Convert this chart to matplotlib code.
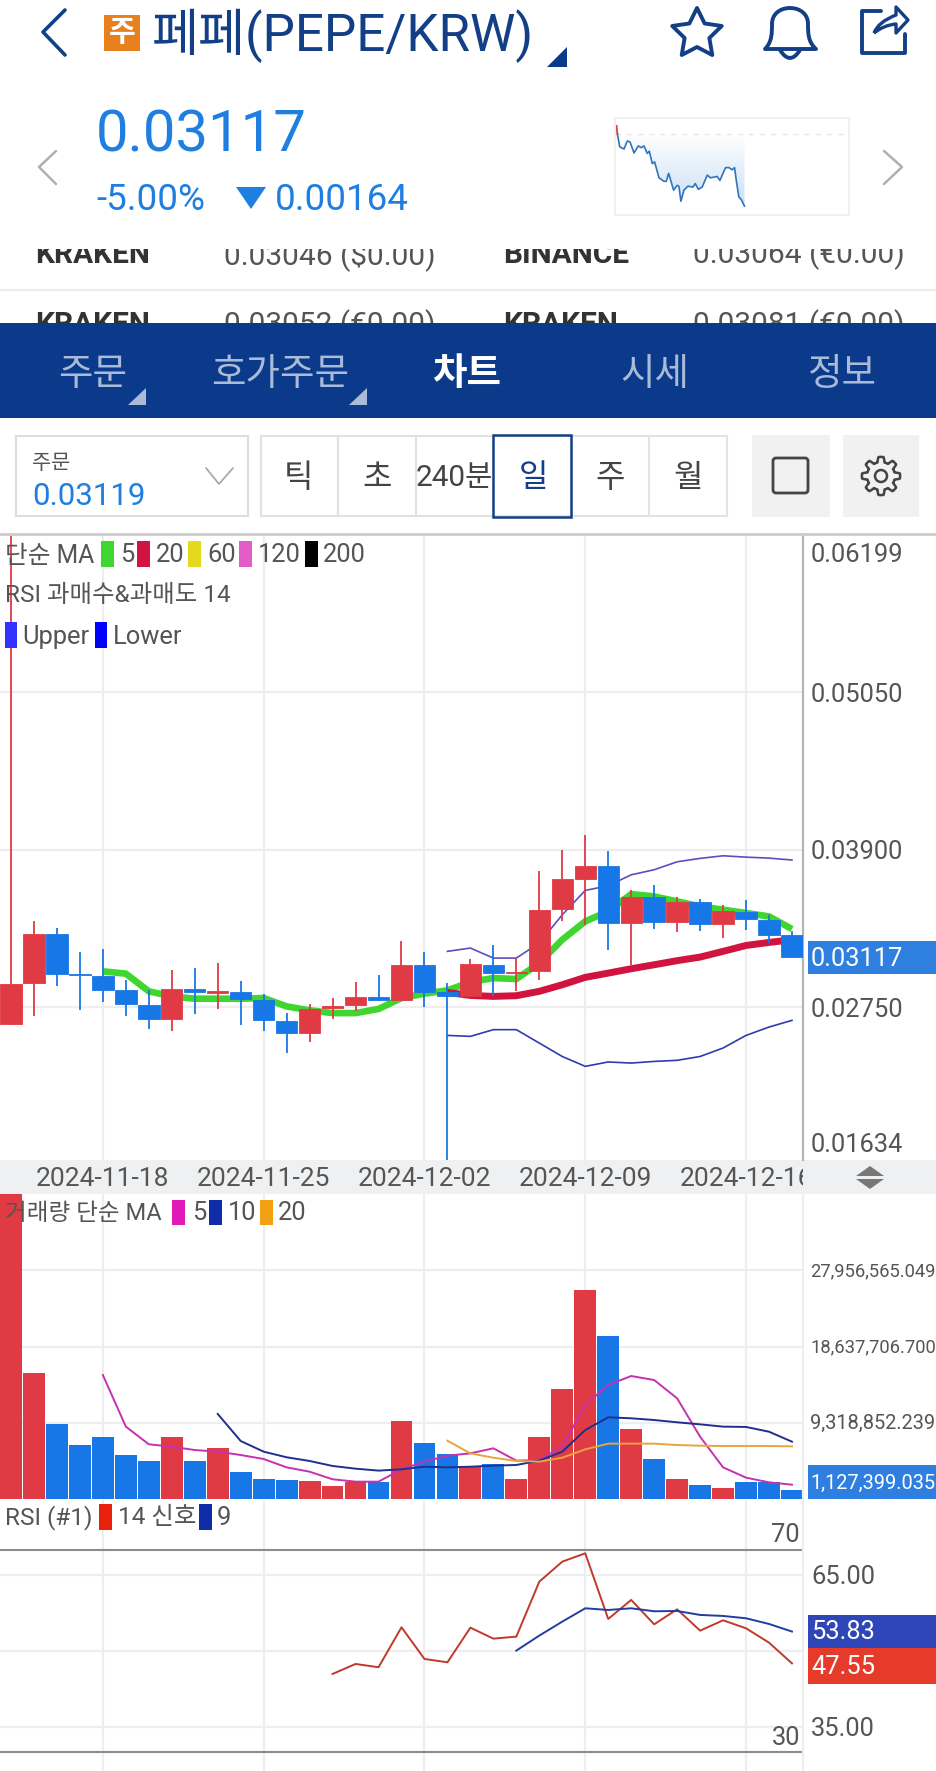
import matplotlib
matplotlib.use('Agg')
import matplotlib.pyplot as plt
import numpy as np
from matplotlib.patches import Rectangle, Polygon, PathPatch, Circle, FancyBboxPatch
from matplotlib.path import Path
from matplotlib.transforms import Bbox

plt.rcParams['font.family'] = ['Roboto', 'Noto Sans CJK KR', 'DejaVu Sans']

W, H = 936, 1771

# daily candles, 2024-11-14 .. 2024-12-18
opens = [.02625, .02929, .03282, .02995, .02980, .02873, .02768, .02661, .02883, .02856, .02861, .02805,
         .02649, .02561, .02744, .02768, .02822, .02805, .03055, .02861, .02829, .03060, .02999, .03014,
         .03469, .03686, .03783, .03365, .03552, .03372, .03518, .03357, .03445, .03386, .03277]
closes = [.02922, .03282, .02995, .02987, .02878, .02776, .02661, .02883, .02861, .02866, .02810, .02654,
          .02561, .02737, .02761, .02822, .02805, .03055, .02858, .02832, .03065, .02999, .03009, .03462,
          .03686, .03783, .03365, .03552, .03372, .03518, .03357, .03450, .03391, .03279, .03117]
highs = [.06199, .03377, .03328, .03153, .03177, .02951, .02878, .03024, .03038, .03070, .02943, .02846,
         .02707, .02776, .02814, .02936, .02987, .03231, .03155, .02926, .03102, .03206, .03109, .03742,
         .03900, .04010, .03893, .03608, .03644, .03554, .03540, .03496, .03530, .03421, .03304]
lows = [.02625, .02683, .02902, .02732, .02790, .02688, .02591, .02574, .02702, .02737, .02622, .02576,
        .02415, .02496, .02661, .02720, .02805, .02805, .02751, .01634, .02829, .02829, .02866, .02951,
        .03377, .03352, .03170, .03060, .03321, .03299, .03309, .03255, .03316, .03219, .03117]

ma5 = [.03012, .02995, .02866, .02829, .02812, .02812, .02812, .02817, .02756, .02727, .02707, .02707,
       .02737, .02817, .02849, .02873, .02934, .02963, .02956, .03072, .03243, .03377, .03450, .03576,
       .03559, .03523, .03486, .03462, .03438, .03413, .03321]  # from index 4
ma20 = [.02858, .02836, .02829, .02834, .02866, .02914, .02968, .02999, .03031, .03060, .03090, .03116,
        .03158, .03201, .03223, .03243]  # from index 19
boll_upper = [.03158, .03182, .03109, .03109, .03219, .03425, .03603, .03637, .03717, .03754, .03812,
              .03837, .03856, .03846, .03839, .03825]  # from index 19
boll_lower = [.02544, .02537, .02586, .02586, .02488, .02390, .02318, .02350, .02342, .02354, .02362,
              .02390, .02452, .02544, .02605, .02654]  # from index 19

price_ticks = [.05050, .03900, .02750]
price_labels = ['0.06199', '0.05050', '0.03900', '0.02750', '0.01634']
price_label_vals = [.06199, .05050, .03900, .02750, .01634]

date_pos = [4, 11, 18, 25, 32]
date_labels = ['2024-11-18', '2024-11-25', '2024-12-02', '2024-12-09', '2024-12-16']

volume = [37.30, 15.37, 9.13, 6.64, 7.54, 5.34, 4.65, 7.58, 4.65, 6.20, 3.26, 2.49, 2.36, 2.16, 1.59, 2.12,
          2.12, 9.50, 6.89, 5.46, 3.95, 4.28, 2.49, 7.62, 13.45, 25.52, 19.93, 8.60, 4.89, 2.49, 1.75, 1.35,
          2.12, 2.12, 1.127399]  # millions
vol_ma5 = [15.16, 8.85, 6.69, 6.40, 5.99, 5.79, 5.38, 4.89, 3.87, 3.34, 2.41, 2.12, 2.12, 3.63, 4.57, 5.30,
           5.58, 6.20, 4.69, 4.77, 6.40, 11.50, 13.94, 15.04, 14.55, 12.31, 7.62, 3.87, 2.61, 2.04, 1.75]  # from 4
vol_ma10 = [10.40, 7.09, 5.79, 5.10, 4.65, 4.04, 3.71, 3.47, 3.63, 3.95, 3.87, 3.95, 4.08, 4.16, 4.69, 5.79,
            8.44, 9.99, 9.87, 9.66, 9.38, 9.13, 8.85, 8.81, 8.23, 7.01]  # from 9
vol_ma20 = [7.13, 5.58, 5.05, 4.65, 4.57, 5.05, 6.07, 6.77, 6.77, 6.77, 6.60, 6.52, 6.48, 6.48, 6.48, 6.44]  # from 19
vol_ticks = [9318852.239, 18637706.700, 27956565.049]
vol_labels = ['9,318,852.239', '18,637,706.700', '27,956,565.049']

rsi = [45.46, 47.43, 46.78, 54.67, 48.42, 47.76, 54.60, 52.43, 52.83, 63.68, 67.63, 69.28, 56.32, 60.07,
       55.26, 58.22, 54.01, 56.05, 54.47, 51.64, 47.55]  # from index 14
rsi_signal = [50.07, 53.03, 55.79, 58.42, 58.09, 58.42, 57.83, 57.89, 57.11, 56.91, 56.45, 55.33, 53.83]  # from 22
rsi_ticks = [65, 50, 35]

# intraday sparkline (hours, price)
spark_t = [.24, .48, .92, 1.26, 1.54, 1.95, 2.39, 2.70, 2.97, 3.31, 3.52, 3.82, 4.06, 4.51, 5.02, 5.26, 5.50,
           6.01, 6.38, 6.55, 6.76, 7.07, 7.48, 7.99, 8.23, 8.54, 8.94, 9.46, 9.80, 10.48, 10.76, 11.34, 11.68,
           12.02, 12.26, 12.46, 12.70, 12.97, 13.28]
spark_p = [.03281, .03251, .03246, .03264, .03262, .03237, .03253, .03249, .03253, .03236, .03241, .03213,
           .03217, .03181, .03173, .03173, .03191, .03153, .03164, .03162, .03128, .03153, .03162, .03160,
           .03168, .03155, .03160, .03187, .03181, .03184, .03175, .03204, .03204, .03199, .03204, .03172,
           .03138, .03131, .03117]
prev_close = .03281

RED = '#E03A45'
BLUE = '#1877E6'
GRID = '#EEEEF0'
NAVY = '#0B3A8A'
ICON = '#123F86'
TXT = '#555555'


def px_ax(x0, y0, x1, y1, **kw):
    return fig.add_axes([x0 / W, 1 - y1 / H, (x1 - x0) / W, (y1 - y0) / H], **kw)


fig = plt.figure(figsize=(W / 100, H / 100), dpi=100)

# background strip behind the date labels
bg = px_ax(0, 0, W, H, zorder=0)
bg.set_xlim(0, W)
bg.set_ylim(H, 0)
bg.axis('off')
bg.add_patch(Rectangle((0, 1160), W, 34, fc='#EFF0F2', ec='none'))

xlim = (-0.479, 34.48)
idx = np.arange(len(opens))


def style_ax(ax, edge):
    ax.set_xlim(*xlim)
    ax.set_xticks(date_pos)
    ax.grid(True, color=GRID, lw=1.6)
    ax.set_axisbelow(True)
    ax.tick_params(length=0, labelleft=False, labelbottom=False)
    for s in ['top', 'left', 'bottom']:
        ax.spines[s].set_visible(False)
    ax.spines['right'].set_color(edge)
    ax.spines['right'].set_linewidth(1.6)


def right_label(ax, val, s, size=18.4, dy=-2.5, x=8):
    ax.annotate(s, xy=(1, val), xycoords=ax.get_yaxis_transform(), xytext=(x, dy), textcoords='offset pixels',
                ha='left', va='center', fontsize=size, color=TXT, annotation_clip=False)


# price panel
ax1 = px_ax(0, 535, 803, 1160, zorder=1)
style_ax(ax1, '#B4B4B4')
ax1.set_ylim(.01634, .06199)
ax1.set_yticks(price_ticks)

ax1.plot(np.arange(19, 19 + len(boll_upper)), boll_upper, color='#5B4FC0', lw=1.2, zorder=2)
ax1.plot(np.arange(19, 19 + len(boll_lower)), boll_lower, color='#2F3BAE', lw=1.2, zorder=2)
ax1.plot(np.arange(4, 4 + len(ma5)), ma5, color='#3FD62F', lw=4.8, zorder=2, solid_capstyle='butt')
ax1.plot(np.arange(19, 19 + len(ma20)), ma20, color='#D0143F', lw=5, zorder=2, solid_capstyle='butt')

candle_col = [RED if c > o else BLUE for o, c in zip(opens, closes)]
ax1.vlines(idx, lows, highs, colors=candle_col, lw=1.3, zorder=3)
body = np.abs(np.array(closes) - np.array(opens))
bottom = np.minimum(opens, closes)
ax1.bar(idx, body, bottom=bottom, width=0.93, color=candle_col, edgecolor=candle_col, lw=0.6, zorder=4)

dy_price = [-19.5, -2.5, -2.5, -2.5, 14.5]
for v, s, d in zip(price_label_vals, price_labels, dy_price):
    right_label(ax1, v, s, dy=d)

ax1.set_xticklabels(date_labels)
ax1.tick_params(axis='x', labelbottom=True, labelsize=19, labelcolor=TXT, pad=5)
clip = Bbox([[0, 0], [803, H]])
for lab in ax1.get_xticklabels():
    lab.set_clip_on(True)
    lab.set_clip_box(clip)

# volume panel
ax2 = px_ax(0, 1194, 803, 1499, zorder=1)
style_ax(ax2, GRID)
vol = np.array(volume) * 1e6
ax2.set_ylim(0, 37.3e6)
ax2.set_yticks(vol_ticks)
ax2.bar(idx, vol, width=0.95, color=candle_col, lw=0, zorder=2)
ax2.plot(np.arange(4, 4 + len(vol_ma5)), np.array(vol_ma5) * 1e6, color='#C730B0', lw=1.4, zorder=3)
ax2.plot(np.arange(9, 9 + len(vol_ma10)), np.array(vol_ma10) * 1e6, color='#1F2F8F', lw=1.4, zorder=3)
ax2.plot(np.arange(19, 19 + len(vol_ma20)), np.array(vol_ma20) * 1e6, color='#E8A53A', lw=1.4, zorder=3)
for v, s, sz in zip(vol_ticks, vol_labels, [14.4, 13.2, 13.2]):
    right_label(ax2, v, s, size=sz, dy=-1, x=7)

# RSI panel
ax3 = px_ax(0, 1500, 803, 1771, zorder=1)
style_ax(ax3, GRID)
ax3.set_ylim(26.3, 79.8)
ax3.set_yticks(rsi_ticks)
for lvl in (70, 30):
    ax3.axhline(lvl, color='#8C8C8C', lw=1.5, zorder=2)
    ax3.text(34.35, lvl + 0.5, str(lvl), ha='right', va='bottom', fontsize=18.4, color=TXT)
ax3.plot(np.arange(14, 14 + len(rsi)), rsi, color='#C0392B', lw=1.4, zorder=3)
ax3.plot(np.arange(22, 22 + len(rsi_signal)), rsi_signal, color='#1F3F9F', lw=1.4, zorder=3)
for v in (65, 35):
    right_label(ax3, v, '%.2f' % v)

# everything else is screen furniture, drawn in pixel coordinates
ui = px_ax(0, 0, W, H, zorder=2)
ui.set_xlim(0, W)
ui.set_ylim(H, 0)
ui.axis('off')
ui.patch.set_alpha(0)


def T(x, y, s, size=18.4, color=TXT, ha='left', va='center', **kw):
    return ui.text(x, y, s, fontsize=size, color=color, ha=ha, va=va, **kw)


def swatch(x0, x1, y0, y1, col):
    ui.add_patch(Rectangle((x0, y0), x1 - x0, y1 - y0, fc=col, ec='none'))


def chevron(pts, col, lw):
    xs, ys = zip(*pts)
    ui.plot(xs, ys, color=col, lw=lw, solid_capstyle='round', solid_joinstyle='round')


# table rows behind the header
for y, a, b, c, d in [(255, 'KRAKEN', '0.03046 ($0.00)', 'BINANCE', '0.03064 (€0.00)'),
                      (325, 'KRAKEN', '0.03052 (€0.00)', 'KRAKEN', '0.03081 (€0.00)')]:
    T(35, y, a, 21.5, '#333333', weight='bold')
    T(224, y, b, 21.5, TXT)
    T(503, y, c, 21.5, '#333333', weight='bold')
    T(693, y, d, 21.5, TXT)
ui.add_patch(Rectangle((0, 222), W, 27, fc='white', ec='none', zorder=3.5))
ui.plot([0, W], [290, 290], color='#EEEEEE', lw=1.6)

# header
chevron([(65, 10), (43, 32), (65, 55)], ICON, 2.6)
swatch(104, 140, 15, 51, '#E8801E')
T(122, 33, '주', 21, 'white', ha='center', weight='bold')
T(152, 36, '페페(PEPE/KRW)', 36.8, ICON, zorder=3)
ui.add_patch(Polygon([(547, 67), (567, 67), (567, 47)], fc=NAVY, ec='none'))

ang = np.pi / 2 + np.arange(10) * np.pi / 5
rad = np.where(np.arange(10) % 2 == 0, 26, 13)
ui.add_patch(Polygon(np.c_[697 + rad * np.cos(ang), 34 - rad * np.sin(ang)], fc='none', ec=ICON, lw=2.8, joinstyle='round'))

bell = Path([(765, 49), (816, 49), (808, 42), (808, 33), (808, 24), (808, 14), (800, 8), (790, 8), (780, 8), (772, 14),
             (772, 24), (772, 33), (772, 42), (765, 49), (765, 49)],
            [Path.MOVETO, Path.LINETO] + [Path.CURVE4] * 12 + [Path.CLOSEPOLY])
ui.add_patch(PathPatch(bell, fc='none', ec=ICON, lw=2.8, joinstyle='round'))
ui.add_patch(PathPatch(Path([(780, 50), (790, 66), (800, 50)], [Path.MOVETO, Path.CURVE3, Path.CURVE3]), fc='none', ec=ICON, lw=2.8))

chevron([(881, 11), (862, 11), (862, 53), (905, 53), (905, 34)], ICON, 2.8)
share = Path([(874, 33), (878, 22), (896, 15), (896, 7), (908, 20), (896, 33), (896, 24), (884, 25), (874, 33)],
             [Path.MOVETO, Path.CURVE3, Path.CURVE3, Path.LINETO, Path.LINETO, Path.LINETO, Path.LINETO, Path.CURVE3, Path.CURVE3])
ui.add_patch(PathPatch(share, fc='none', ec=ICON, lw=2.4, joinstyle='round'))

# price block
T(96, 136, '0.03117', 41.8, '#1E7FE0')
T(96, 200, '-5.00%', 26.5, '#1E7FE0')
ui.add_patch(Polygon([(236, 187), (266, 187), (251, 209)], fc='#1E7FE0', ec='none'))
T(275, 200, '0.00164', 26.5, '#1E7FE0')
chevron([(56, 151), (39, 167), (56, 184)], '#B0B0B0', 1.8)
chevron([(884, 151), (902, 167), (884, 184)], '#B0B0B0', 1.8)

# sparkline
axs = px_ax(615, 118, 849, 215, zorder=3)
axs.set_xticks([])
axs.set_yticks([])
for s in axs.spines.values():
    s.set_color('#EDEDED')
    s.set_linewidth(1.2)
grad = np.linspace(0, 1, 64).reshape(-1, 1)
im = axs.imshow(grad, extent=(0, 24, .03097, prev_close), aspect='auto', origin='upper',
                cmap=matplotlib.colors.LinearSegmentedColormap.from_list('sp', ['#FFFFFF', '#C4DCF5']))
fill_poly = Polygon(np.c_[[spark_t[0]] + spark_t + [spark_t[-1]], [prev_close] + spark_p + [prev_close]],
                    transform=axs.transData, fc='none', ec='none')
axs.add_patch(fill_poly)
im.set_clip_path(fill_poly)
axs.set_xlim(0, 24)
axs.set_ylim(.03097, .03316)
axs.axhline(prev_close, color='#E8E8E8', lw=1, ls=(0, (4, 4)))
axs.plot(spark_t, spark_p, color='#2F74C0', lw=1.2)
axs.plot([.16, .24], [.03298, prev_close], color='#D84A50', lw=1.4)

# tab band
ui.add_patch(Rectangle((0, 323), W, 95, fc=NAVY, ec='none', zorder=3.6))
INACT = '#A9BBD8'
for x, s, col, kw in [(93, '주문', INACT, {}), (280, '호가주문', INACT, {}), (467, '차트', 'white', {'weight': 'bold'}),
                      (655, '시세', INACT, {}), (842, '정보', INACT, {})]:
    T(x, 374, s, 27, col, ha='center', zorder=4, **kw)
for x0 in (128, 349):
    ui.add_patch(Polygon([(x0, 405), (x0 + 18, 405), (x0 + 18, 388)], fc='#A9BBD8', ec='none', zorder=4))

# order box and period buttons
ui.add_patch(Rectangle((16, 436), 232, 80, fc='white', ec='#DDDDDD', lw=1.5))
T(32, 463, '주문', 15, TXT)
T(32, 496, '0.03119', 22.5, '#1E7FE0')
chevron([(206, 468), (219, 484), (233, 468)], '#AAAAAA', 1.3)
ui.add_patch(Rectangle((261, 436), 466, 80, fc='white', ec='#E2E2E2', lw=1.5))
for x in (338, 416, 649):
    ui.plot([x, x], [436, 516], color='#E2E2E2', lw=1.5)
for x, s, sz in [(298, '틱', 23), (377, '초', 23), (454, '240분', 21.4), (533, '일', 23), (610, '주', 23), (688, '월', 23)]:
    T(x, 478, s, sz, '#444444' if s != '일' else ICON, ha='center')
ui.add_patch(Rectangle((493, 435), 78, 82, fc='none', ec=ICON, lw=1.8))
swatch(752, 830, 435, 517, '#F1F1F1')
swatch(843, 919, 435, 517, '#F1F1F1')
ui.add_patch(FancyBboxPatch((775, 460), 31, 31, boxstyle='round,pad=2,rounding_size=3', fc='none', ec='#444444', lw=2))
t = np.linspace(0, 2 * np.pi, 193)
r = 16.5 + 2.6 * np.clip(2.2 * np.cos(8 * t), -1, 1)
ui.add_patch(Polygon(np.c_[881 + r * np.cos(t), 476 + r * np.sin(t)], fc='none', ec='#444444', lw=1.8, joinstyle='round'))
ui.add_patch(Circle((881, 476), 6, fc='none', ec='#444444', lw=1.8))

# top rule of the chart and the legends
ui.plot([0, W], [534, 534], color='#CCCCCC', lw=2)
T(5, 556, '단순 MA', 17.8)
for x0, col, tx, s in [(101, '#3FD62F', 120, '5'), (137, '#D0143F', 156, '20'), (188, '#E5D91E', 207, '60'),
                       (239, '#E45CC8', 258, '120'), (305, '#000000', 323, '200')]:
    swatch(x0, x0 + 13, 541, 567, col)
    T(tx, 555, s)
T(5, 596, 'RSI 과매수&과매도 14', 17.6)
swatch(5, 17, 622, 648, '#3333FF')
T(22, 637, 'Upper')
swatch(95, 107, 622, 648, '#0000FF')
T(113, 637, 'Lower')

T(5, 1213, '거래량 단순 MA', 17)
for x0, col, tx, s in [(172, '#E01AB8', 192, '5'), (209, '#0F2DA8', 228, '10'), (260, '#F0A010', 278, '20')]:
    swatch(x0, x0 + 13, 1200, 1225, col)
    T(tx, 1213, s)

T(5, 1518, 'RSI (#1)', 17.6)
swatch(99, 112, 1504, 1530, '#E8200C')
T(118, 1518, '14 신호', 17.6)
swatch(199, 212, 1504, 1530, '#0F2DA8')
T(217, 1518, '9')

# double arrow in the date strip
ui.add_patch(Polygon([(856, 1176), (884, 1176), (870, 1166)], fc='#777777', ec='none'))
ui.add_patch(Polygon([(856, 1179), (884, 1179), (870, 1189)], fc='#777777', ec='none'))

# current value tags
swatch(808, W, 941, 974, '#2E7FE0')
T(811, 959, '0.03117', 18.4, 'white')
swatch(808, W, 1465, 1499, '#2E7FE0')
T(810, 1483, '1,127,399.035', 14.4, 'white')
swatch(808, W, 1615, 1648, '#2E46B8')
T(811, 1632, '53.83', 18.4, 'white')
swatch(808, W, 1648, 1684, '#E63A2A')
T(811, 1667, '47.55', 18.4, 'white')

fig.savefig('out.png', dpi=100)
